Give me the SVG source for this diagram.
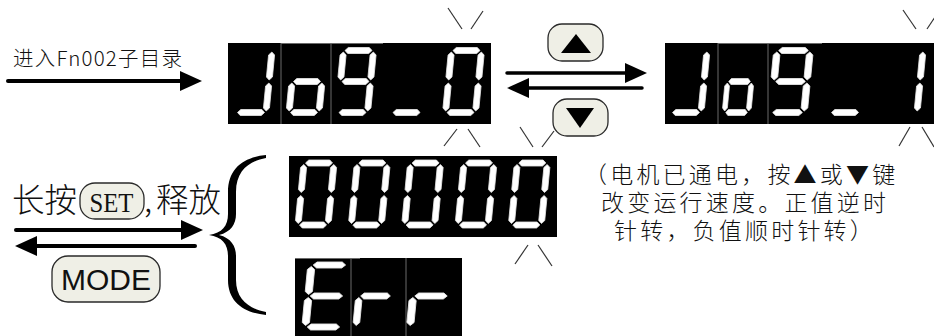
<svg xmlns="http://www.w3.org/2000/svg" width="934" height="336" viewBox="0 0 934 336">
<style>
.seg{fill:#fff;stroke:#e6e6e6;stroke-width:0.8;stroke-linejoin:round}
.disp{fill:#000}
.div{stroke:#6a6a6a;stroke-width:1}
.ray{stroke:#333;stroke-width:1.2;fill:none}
.btn{fill:#efefe6;stroke:#2a2a2a;stroke-width:1.3}
.arr{stroke:#000;fill:none;stroke-linecap:round}
.cjk{font-family:"Noto Sans CJK SC","Noto Sans",sans-serif;fill:#111;font-weight:300}
</style>
<defs>
<marker id="ah" markerUnits="userSpaceOnUse" markerWidth="22" markerHeight="20" viewBox="0 0 22 20" refX="2" refY="10" orient="auto"><path d="M0,0 L22,10 L0,20 Z" fill="#000"/></marker>
<path id="sa" class="seg" d="M1.5,0 L4.5,-3 L25.5,-3 L28.5,0 L25.5,3 L4.5,3 Z"/>
<path id="sg" class="seg" d="M1.5,31 L4.5,28 L25.5,28 L28.5,31 L25.5,34 L4.5,34 Z"/>
<path id="sd" class="seg" d="M1.5,62 L4.5,59 L25.5,59 L28.5,62 L25.5,65 L4.5,65 Z"/>
<path id="sf" class="seg" d="M0,1.5 L3,4.5 L3,26.5 L0,29.5 L-3,26.5 L-3,4.5 Z"/>
<path id="se" class="seg" d="M0,32.5 L3,35.5 L3,57.5 L0,60.5 L-3,57.5 L-3,35.5 Z"/>
<path id="sb" class="seg" d="M30,1.5 L33,4.5 L33,26.5 L30,29.5 L27,26.5 L27,4.5 Z"/>
<path id="sc" class="seg" d="M30,32.5 L33,35.5 L33,57.5 L30,60.5 L27,57.5 L27,35.5 Z"/>
</defs>

<g id="label-enter">
<text class="cjk" x="13" y="66" font-size="20.5" textLength="169" lengthAdjust="spacing">进入Fn002子目录</text>
</g>

<g id="display-jog0">
<rect class="disp" x="228" y="43" width="263" height="81"/>
<line class="div" x1="281" y1="43" x2="281" y2="124"/>
<line class="div" x1="331" y1="43" x2="331" y2="124"/>
<line class="div" x1="281" y1="43.5" x2="383" y2="43.5"/>
<g transform="translate(242,50.5) skewX(-5.5)"><use href="#sb"/><use href="#sc"/><use href="#sd"/></g>
<g transform="translate(295,50.5) skewX(-5.5)"><use href="#sg"/><use href="#sc"/><use href="#sd"/><use href="#se"/></g>
<g transform="translate(343.5,50.5) skewX(-5.5)"><use href="#sa"/><use href="#sb"/><use href="#sc"/><use href="#sd"/><use href="#sf"/><use href="#sg"/></g>
<g transform="translate(397.5,50.5) skewX(-5.5)"><use href="#sd"/></g>
<g transform="translate(451.5,50.5) skewX(-5.5)"><use href="#sa"/><use href="#sb"/><use href="#sc"/><use href="#sd"/><use href="#se"/><use href="#sf"/></g>
</g>

<g id="display-jog1">
<rect class="disp" x="665" y="43" width="269" height="81"/>
<line class="div" x1="718" y1="43" x2="718" y2="124"/>
<line class="div" x1="768" y1="43" x2="768" y2="124"/>
<line class="div" x1="718" y1="43.5" x2="822" y2="43.5"/>
<g transform="translate(677,50.5) skewX(-5.5)"><use href="#sb"/><use href="#sc"/><use href="#sd"/></g>
<g transform="translate(730.5,50.5) skewX(-5.5) scale(0.8,1)"><use href="#sg"/><use href="#sc"/><use href="#sd"/><use href="#se"/></g>
<g transform="translate(777,50.5) skewX(-5.5) scale(1.1,1)"><use href="#sa"/><use href="#sb"/><use href="#sc"/><use href="#sd"/><use href="#sf"/><use href="#sg"/></g>
<g transform="translate(836,50.5) skewX(-5.5)"><use href="#sd"/></g>
<g transform="translate(893,50.5) skewX(-5.5)"><use href="#sb"/><use href="#sc"/></g>
</g>

<g id="display-00000">
<rect class="disp" x="289" y="156" width="268" height="81"/>
<g transform="translate(304,163) skewX(-5.5)"><use href="#sa"/><use href="#sb"/><use href="#sc"/><use href="#sd"/><use href="#se"/><use href="#sf"/></g>
<g transform="translate(357.3,163) skewX(-5.5)"><use href="#sa"/><use href="#sb"/><use href="#sc"/><use href="#sd"/><use href="#se"/><use href="#sf"/></g>
<g transform="translate(410.6,163) skewX(-5.5)"><use href="#sa"/><use href="#sb"/><use href="#sc"/><use href="#sd"/><use href="#se"/><use href="#sf"/></g>
<g transform="translate(464,163) skewX(-5.5)"><use href="#sa"/><use href="#sb"/><use href="#sc"/><use href="#sd"/><use href="#se"/><use href="#sf"/></g>
<g transform="translate(517.3,163) skewX(-5.5)"><use href="#sa"/><use href="#sb"/><use href="#sc"/><use href="#sd"/><use href="#se"/><use href="#sf"/></g>
</g>

<g id="display-err">
<rect class="disp" x="295" y="258" width="167" height="78"/>
<line class="div" x1="351" y1="258" x2="351" y2="336"/>
<line class="div" x1="406" y1="258" x2="406" y2="336"/>
<line class="div" x1="295" y1="258.5" x2="360" y2="258.5"/>
<g transform="translate(311.4,265) skewX(-5.5) scale(1.2,1)"><use href="#sa"/><use href="#sd"/><use href="#se"/><use href="#sf"/><use href="#sg"/></g>
<g transform="translate(362,265) skewX(-5.5) scale(1.1,1)"><use href="#se"/><use href="#sg"/></g>
<g transform="translate(416,265) skewX(-5.5) scale(1.2,1)"><use href="#se"/><use href="#sg"/></g>
</g>

<g id="blink-rays">
<line class="ray" x1="448" y1="8" x2="462" y2="29"/>
<line class="ray" x1="483" y1="11" x2="471" y2="29"/>
<line class="ray" x1="444" y1="146" x2="457" y2="129"/>
<line class="ray" x1="468" y1="129" x2="480" y2="147"/>
<line class="ray" x1="520" y1="127" x2="533" y2="147"/>
<line class="ray" x1="542" y1="147" x2="554" y2="131"/>
<line class="ray" x1="515" y1="264" x2="528" y2="245"/>
<line class="ray" x1="538" y1="245" x2="552" y2="266"/>
<line class="ray" x1="903" y1="10" x2="916" y2="29"/>
<line class="ray" x1="927" y1="29" x2="937" y2="14"/>
<line class="ray" x1="899" y1="146" x2="910" y2="127"/>
<line class="ray" x1="922" y1="127" x2="934" y2="147"/>
</g>

<g id="btn-up">
<rect class="btn" x="548" y="24" width="55" height="37" rx="14"/>
<path d="M576,34 L591,53 L561,53 Z" fill="#000"/>
</g>
<g id="btn-down">
<rect class="btn" x="553" y="99" width="55" height="37" rx="14"/>
<path d="M566,108 L594,108 L580,128 Z" fill="#000"/>
</g>

<g id="label-set">
<text class="cjk" x="12" y="212" font-size="32.5">长按</text>
<rect class="btn" x="80" y="183" width="64" height="36" rx="15"/>
<text x="111.5" y="212" font-family="'Liberation Serif',serif" font-size="27" text-anchor="middle" textLength="44" lengthAdjust="spacingAndGlyphs" fill="#111">SET</text>
<text class="cjk" x="144" y="212" font-size="32.5">,<tspan x="156">释放</tspan></text>
</g>

<g id="btn-mode">
<rect class="btn" x="52" y="256" width="108" height="46" rx="16"/>
<text x="106" y="290" font-family="'Liberation Sans',Arial,sans-serif" font-size="30" text-anchor="middle" fill="#111">MODE</text>
</g>

<g id="brace">
<path d="M266,155 C244,157 228,168 228,192 L228,214 C228,226 222,233 209,235 C222,237 228,244 228,256 L228,280 C228,302 244,313 266,315 L266,312 C250,309 236,300 236,280 L236,256 C236,246 231,238 219,235 C231,232 236,224 236,214 L236,192 C236,170 250,161 266,158 Z" fill="#000"/>
</g>

<g id="note">
<text class="cjk" font-size="23" letter-spacing="3.2">
<tspan x="584" y="183">（电机已通电，按▲或▼键</tspan>
<tspan x="601" y="211">改变运行速度。正值逆时</tspan>
<tspan x="614" y="239">针转，负值顺时针转）</tspan>
</text>
</g>

<g id="connectors">
<line class="arr" x1="8" y1="81" x2="182" y2="81" stroke-width="4" marker-end="url(#ah)"/>
<line class="arr" x1="507" y1="73" x2="627" y2="73" stroke-width="3.5" marker-end="url(#ah)"/>
<line class="arr" x1="642" y1="88" x2="527" y2="88" stroke-width="3.5" marker-end="url(#ah)"/>
<line class="arr" x1="16" y1="230" x2="183" y2="230" stroke-width="4" marker-end="url(#ah)"/>
<line class="arr" x1="195" y1="246" x2="35" y2="246" stroke-width="4" marker-end="url(#ah)"/>
</g>
</svg>
